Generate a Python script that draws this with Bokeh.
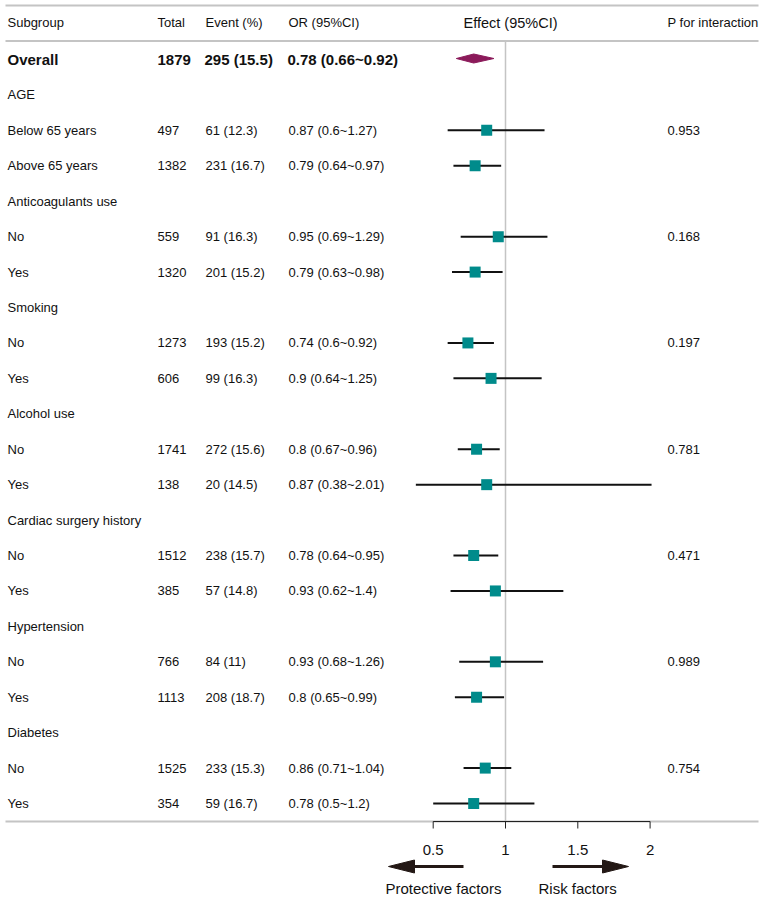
from bokeh.plotting import figure
from bokeh.models import Range1d
from bokeh.core.properties import value
from bokeh.embed import file_html
from bokeh.resources import INLINE

# ---- table data -------------------------------------------------------------
subgroups = ["Overall", "AGE", "Below 65 years", "Above 65 years",
             "Anticoagulants use", "No", "Yes",
             "Smoking", "No", "Yes",
             "Alcohol use", "No", "Yes",
             "Cardiac surgery history", "No", "Yes",
             "Hypertension", "No", "Yes",
             "Diabetes", "No", "Yes"]
totals = [1879, None, 497, 1382, None, 559, 1320, None, 1273, 606, None, 1741, 138,
          None, 1512, 385, None, 766, 1113, None, 1525, 354]
events = [295, None, 61, 231, None, 91, 201, None, 193, 99, None, 272, 20,
          None, 238, 57, None, 84, 208, None, 233, 59]
event_pct = [15.5, None, 12.3, 16.7, None, 16.3, 15.2, None, 15.2, 16.3, None, 15.6, 14.5,
             None, 15.7, 14.8, None, 11, 18.7, None, 15.3, 16.7]
or_est = [0.78, None, 0.87, 0.79, None, 0.95, 0.79, None, 0.74, 0.9, None, 0.8, 0.87,
          None, 0.78, 0.93, None, 0.93, 0.8, None, 0.86, 0.78]
or_low = [0.66, None, 0.6, 0.64, None, 0.69, 0.63, None, 0.6, 0.64, None, 0.67, 0.38,
          None, 0.64, 0.62, None, 0.68, 0.65, None, 0.71, 0.5]
or_high = [0.92, None, 1.27, 0.97, None, 1.29, 0.98, None, 0.92, 1.25, None, 0.96, 2.01,
           None, 0.95, 1.4, None, 1.26, 0.99, None, 1.04, 1.2]
p_interaction = [None, None, "0.953", None, None, "0.168", None, None, "0.197", None,
                 None, "0.781", None, None, "0.471", None, None, "0.989", None, None,
                 "0.754", None]
headers = ["Subgroup", "Total", "Event (%)", "OR (95%CI)", "Effect (95%CI)", "P for interaction"]
x_ticks = [0.5, 1, 1.5, 2]
direction_labels = ["Protective factors", "Risk factors"]

# ---- layout -----------------------------------------------------------------
W, H = 767, 901
FONT = value("Liberation Sans")
TXT = "#111111"
RULE = "#c4c4c4"
ROW0, ROW_STEP = 59, 35.43
X_ONE, X_UNIT = 505, 144.6          # canvas x of OR = 1, pixels per OR unit
row_y = [ROW0 + i * ROW_STEP for i in range(len(subgroups))]

p = figure(width=W, height=H, output_backend="svg", toolbar_location=None,
           x_range=Range1d(1 - X_ONE / X_UNIT, 1 + (W - X_ONE) / X_UNIT),
           y_range=Range1d(H, 0), x_axis_location=None, y_axis_location=None,
           min_border=0, outline_line_color=None)
p.extra_x_ranges = {"px": Range1d(0, W)}
p.grid.visible = False
p.background_fill_color = "white"
p.border_fill_color = "white"

# horizontal rules
for yy in (5, 40.5, 821):
    p.segment(x0=5, x1=758, y0=yy, y1=yy, x_range_name="px", line_color=RULE, line_width=2)

# reference line at OR = 1
p.segment(x0=1, x1=1, y0=40.5, y1=821, line_color=RULE, line_width=1.5)

# column headers
hdr_x = [7, 157, 205, 288, None, 667]
for h, hx in zip(headers, hdr_x):
    if hx is None:
        continue
    p.text(x=[hx], y=[22], text=[h], x_range_name="px", text_font=FONT,
           text_font_size="13px", text_baseline="middle", text_color=TXT)
p.text(x=[510], y=[22], text=[headers[4]], x_range_name="px", text_font=FONT,
       text_font_size="14.5px", text_baseline="middle", text_align="center", text_color=TXT)

# table body
for i, name in enumerate(subgroups):
    bold = i == 0
    style = dict(x_range_name="px", text_font=FONT, text_baseline="middle", text_color=TXT,
                 text_font_size="15px" if bold else "13px",
                 text_font_style="bold" if bold else "normal")
    y = row_y[i]
    p.text(x=[7], y=[y], text=[name], **style)
    if totals[i] is not None:
        ev = f"{events[i]} ({event_pct[i]:g})"
        orl = f"{or_est[i]:g} ({or_low[i]:g}~{or_high[i]:g})"
        p.text(x=[157], y=[y], text=[str(totals[i])], **style)
        p.text(x=[204 if bold else 205], y=[y], text=[ev], **style)
        p.text(x=[287 if bold else 288], y=[y], text=[orl], **style)
    if p_interaction[i] is not None:
        p.text(x=[667], y=[y], text=[p_interaction[i]], **style)

# confidence intervals and point estimates
idx = [i for i in range(1, len(subgroups)) if or_est[i] is not None]
p.segment(x0=[or_low[i] for i in idx], x1=[or_high[i] for i in idx],
          y0=[row_y[i] for i in idx], y1=[row_y[i] for i in idx],
          line_color="#111111", line_width=2)
p.scatter(x=[or_est[i] for i in idx], y=[row_y[i] for i in idx], marker="square",
          size=11, fill_color="#008B8B", line_color=None)

# overall diamond
yo = row_y[0] - 1
p.patch(x=[or_low[0], or_est[0], or_high[0], or_est[0]],
        y=[yo, yo - 4.5, yo, yo + 4.5], fill_color="#8B1A5A", line_color="#8B1A5A")

# x axis
p.segment(x0=x_ticks[0], x1=x_ticks[-1], y0=821, y1=821, line_color="#222222", line_width=1)
p.segment(x0=x_ticks, x1=x_ticks, y0=[821] * len(x_ticks), y1=[828] * len(x_ticks),
          line_color="#222222", line_width=1)
p.text(x=x_ticks, y=[849] * len(x_ticks), text=[f"{t:g}" for t in x_ticks], text_font=FONT,
       text_font_size="15px", text_align="center", text_baseline="middle", text_color=TXT)

# direction arrows
ARROW = "#231815"
ya = 866
p.segment(x0=[412, 552], x1=[463, 604], y0=[ya, ya], y1=[ya, ya], x_range_name="px",
          line_color=ARROW, line_width=3)
p.patches(xs=[[388, 414, 414], [628, 602, 602]],
          ys=[[ya, ya - 6.5, ya + 6.5], [ya, ya - 6.5, ya + 6.5]],
          x_range_name="px", fill_color=ARROW, line_color=ARROW)
p.text(x=[385, 538], y=[888, 888], text=direction_labels, x_range_name="px", text_font=FONT,
       text_font_size="15px", text_baseline="middle", text_color=TXT)

open("out.html", "w").write(file_html(p, INLINE))
